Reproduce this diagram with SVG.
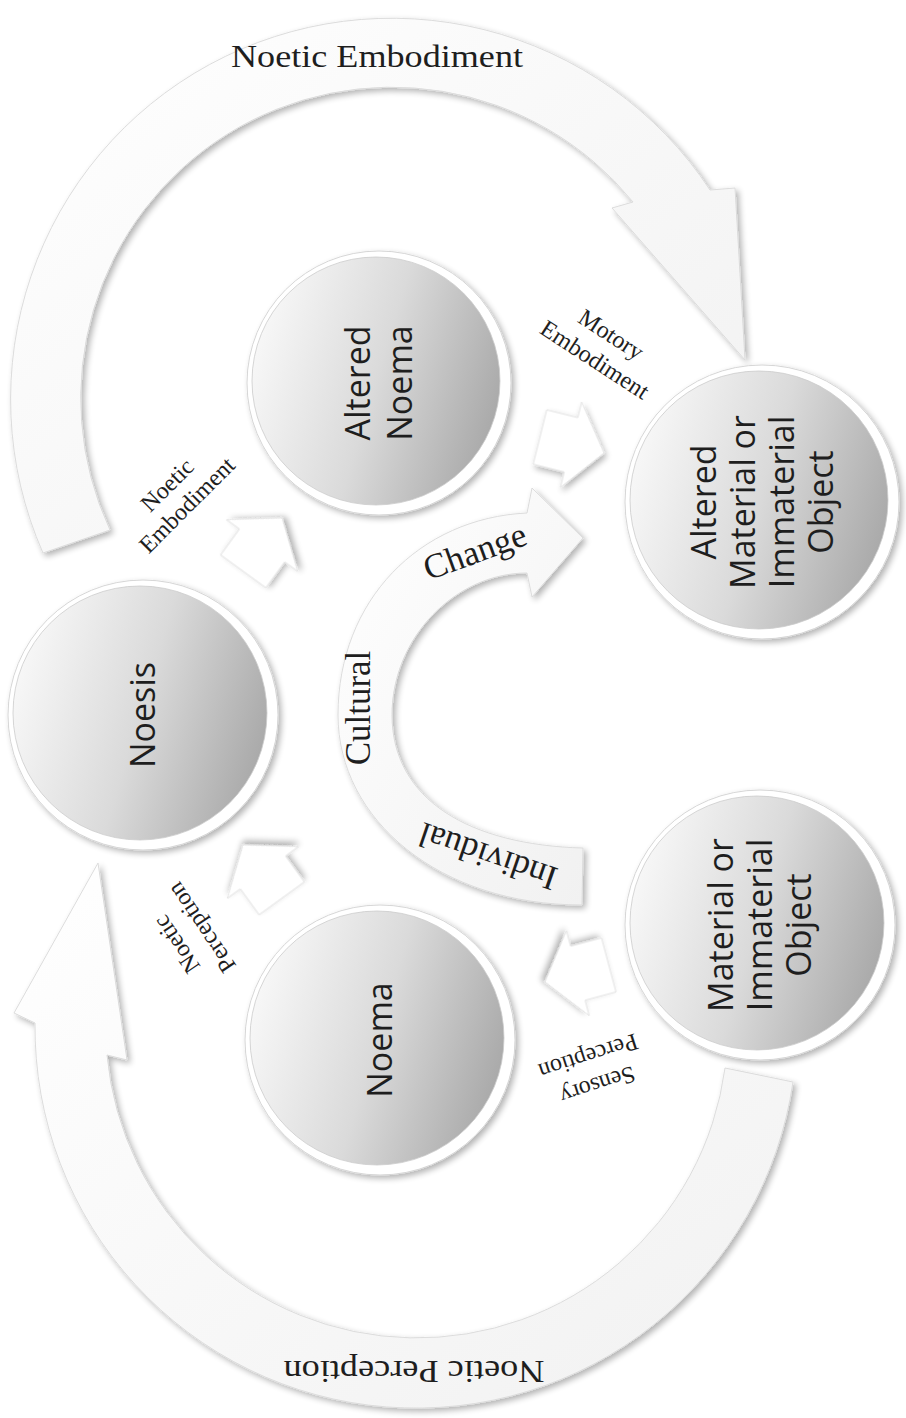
<svg xmlns="http://www.w3.org/2000/svg" xmlns:xlink="http://www.w3.org/1999/xlink" width="906" height="1418" viewBox="0 0 906 1418">
<defs>
<style>
.rim{fill:#ffffff;stroke:#d6d6d6;stroke-width:1;filter:url(#sh)}
.disc{fill:url(#disc);stroke:#cccccc;stroke-width:0.8}
.lbl{font-family:"Open Sans","DejaVu Sans",sans-serif;font-size:34px;fill:#1e1e1e;text-anchor:middle}
.ser{font-family:"Liberation Serif","Times New Roman",serif;fill:#1e1e1e;text-anchor:middle}
.sm{font-size:24px}
.band{fill:url(#band);stroke:#dcdcdc;stroke-width:1;filter:url(#sh)}
.blk{fill:#ffffff;stroke:#e2e2e2;stroke-width:1;filter:url(#sh)}
</style>
<filter id="sh" x="-15%" y="-15%" width="135%" height="135%">
<feGaussianBlur in="SourceAlpha" stdDeviation="3"/>
<feOffset dx="3" dy="3" result="b"/>
<feComponentTransfer in="b" result="c"><feFuncA type="linear" slope="0.3"/></feComponentTransfer>
<feMerge><feMergeNode in="c"/><feMergeNode in="SourceGraphic"/></feMerge>
</filter>
<linearGradient id="band" x1="0" y1="0" x2="1" y2="1">
<stop offset="0" stop-color="#ffffff"/><stop offset="1" stop-color="#f1f1f1"/>
</linearGradient>
<linearGradient id="disc" x1="0" y1="0.35" x2="1" y2="0.65">
<stop offset="0" stop-color="#f8f8f8"/><stop offset="0.5" stop-color="#dadada"/><stop offset="1" stop-color="#a8a8a8"/>
</linearGradient>
<path id="blk" d="M0 0 L-34 -44 L-34 -28 L-66 -28 L-66 28 L-34 28 L-34 44 Z"/>
</defs>
<rect width="906" height="1418" fill="#ffffff"/>

<g id="connectors">
<path class="band" d="M43 553 A381 381 0 0 1 710 190 L735 188 L745 360 L612 208 L633 202 A311 311 0 0 0 110 530 Z"/>
<path class="band" d="M793 1082 A381 381 0 0 1 35 1023 L14 1013 L98 863 L127 1060 L107 1055 A311 311 0 0 0 725 1068 Z"/>
<path class="band" d="M527 513 L532 488 L583 538 L532 597 L527 573 C456 573 392 637 392 715 C392 800 470 845 583 848 L582 905 C440 905 338 820 338 715 C338 600 420 518 527 513 Z"/>
<use xlink:href="#blk" class="blk" transform="translate(282 518) rotate(-54)"/>
<use xlink:href="#blk" class="blk" transform="translate(604 453) rotate(14)"/>
<use xlink:href="#blk" class="blk" transform="translate(545 982) rotate(165)"/>
<use xlink:href="#blk" class="blk" transform="translate(243 845) rotate(-126)"/>
</g>

<g id="connector-labels">
<text class="ser" x="377" y="67" font-size="32" textLength="292" lengthAdjust="spacingAndGlyphs">Noetic Embodiment</text>
<text class="ser" transform="translate(414 1361) rotate(180)" font-size="31" textLength="261" lengthAdjust="spacingAndGlyphs">Noetic Perception</text>
<g transform="translate(177 495) rotate(-45)"><text class="ser sm" y="-6">Noetic</text><text class="ser sm" y="22">Embodiment</text></g>
<g transform="translate(603 347) rotate(33)"><text class="ser sm" y="-7">Motory</text><text class="ser sm" y="23">Embodiment</text></g>
<g transform="translate(189 936) rotate(-124)"><text class="ser sm" y="-7">Noetic</text><text class="ser sm" y="23">Perception</text></g>
<g transform="translate(593 1071) rotate(162)"><text class="ser sm" y="-7">Sensory</text><text class="ser sm" y="23">Perception</text></g>
<text class="ser" font-size="35" transform="translate(358 708) rotate(-90)" y="12">Cultural</text>
<text class="ser" font-size="35" transform="translate(475 552) rotate(-20)" y="11">Change</text>
<text class="ser" font-size="35" transform="translate(488 856) rotate(-161)" y="11">Individual</text>
</g>

<g id="altered-noema">
<circle class="rim" cx="379" cy="383" r="132"/>
<circle class="disc" cx="376" cy="381" r="124"/>
<g transform="translate(379 383) rotate(-90)"><text class="lbl" y="-9">Altered</text><text class="lbl" y="33">Noema</text></g>
</g>
<g id="noesis">
<circle class="rim" cx="143" cy="715" r="135"/>
<circle class="disc" cx="140" cy="713" r="127"/>
<text class="lbl" transform="translate(143 715) rotate(-90)" y="12">Noesis</text>
</g>
<g id="noema">
<circle class="rim" cx="380" cy="1040" r="135"/>
<circle class="disc" cx="377" cy="1038" r="127"/>
<text class="lbl" transform="translate(380 1040) rotate(-90)" y="12">Noema</text>
</g>
<g id="altered-object">
<circle class="rim" cx="762" cy="502" r="137"/>
<circle class="disc" cx="759" cy="500" r="129"/>
<g transform="translate(762 502) rotate(-90)"><text class="lbl" y="-46.5">Altered</text><text class="lbl" y="-7.5">Material or</text><text class="lbl" y="31.5">Immaterial</text><text class="lbl" y="70.5">Object</text></g>
</g>
<g id="object">
<circle class="rim" cx="760" cy="925" r="135"/>
<circle class="disc" cx="757" cy="923" r="127"/>
<g transform="translate(760 925) rotate(-90)"><text class="lbl" y="-27">Material or</text><text class="lbl" y="12">Immaterial</text><text class="lbl" y="51">Object</text></g>
</g>
</svg>
